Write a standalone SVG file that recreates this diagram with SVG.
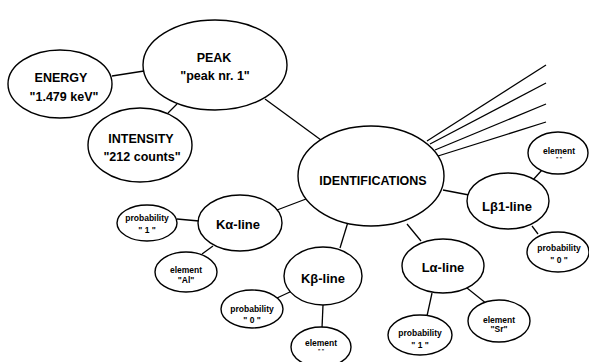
<svg xmlns="http://www.w3.org/2000/svg" width="589" height="362" viewBox="0 0 589 362">
<style>
ellipse{fill:#fff;stroke:#000;stroke-width:1.4}
line{stroke:#000;stroke-width:1.3}
text{font-family:"Liberation Sans",Arial,sans-serif;font-weight:bold;text-anchor:middle;fill:#000}
.b{font-size:12.5px}
.m{font-size:13px}
.s{font-size:8.5px}
.t{font-size:5px}
</style>
<rect width="589" height="362" fill="#fff"/>
<g id="connectors">
<line x1="112" y1="76" x2="144" y2="71"/>
<line x1="177" y1="104" x2="168" y2="113"/>
<line x1="265" y1="99" x2="321" y2="140"/>
<line x1="427" y1="141" x2="546" y2="65"/>
<line x1="430" y1="144" x2="546" y2="83"/>
<line x1="435" y1="150" x2="546" y2="104"/>
<line x1="438" y1="156" x2="546" y2="122"/>
<line x1="542" y1="170" x2="532" y2="181"/>
<line x1="443" y1="190" x2="469" y2="195"/>
<line x1="532" y1="226" x2="538" y2="234"/>
<line x1="407" y1="224" x2="421" y2="241"/>
<line x1="432" y1="293" x2="427" y2="316"/>
<line x1="467" y1="288" x2="487" y2="304"/>
<line x1="277" y1="210" x2="306" y2="199"/>
<line x1="177" y1="219" x2="199" y2="221"/>
<line x1="213" y1="246" x2="202" y2="254"/>
<line x1="348" y1="222" x2="340" y2="248"/>
<line x1="277" y1="298" x2="292" y2="291"/>
<line x1="323" y1="305" x2="322" y2="328"/>
</g>
<g id="peak"><ellipse cx="215" cy="65" rx="72" ry="45"/><text class="b" x="214" y="62">PEAK</text><text class="b" x="215" y="80">"peak nr. 1"</text></g>
<g id="energy"><ellipse cx="60" cy="84" rx="52" ry="34"/><text class="b" x="61" y="82">ENERGY</text><text class="b" x="64" y="101">"1.479 keV"</text></g>
<g id="intensity"><ellipse cx="140" cy="145" rx="52" ry="37"/><text class="b" x="141" y="143">INTENSITY</text><text class="b" x="142" y="161">"212 counts"</text></g>
<g id="identifications"><ellipse cx="371" cy="176" rx="73" ry="50"/><text class="b" x="373" y="185">IDENTIFICATIONS</text></g>
<g id="lb1-element"><ellipse cx="558" cy="153" rx="30" ry="21"/><text class="s" x="559" y="154">element</text><text class="t" x="559" y="161">"  "</text></g>
<g id="lb1-line"><ellipse cx="508" cy="201" rx="41" ry="28"/><text class="m" x="507" y="211">Lβ1-line</text></g>
<g id="lb1-probability"><ellipse cx="558" cy="252" rx="31" ry="20"/><text class="s" x="559" y="251">probability</text><text class="s" x="559" y="263">" 0 "</text></g>
<g id="la-line"><ellipse cx="443" cy="266" rx="41" ry="27"/><text class="m" x="443" y="272">Lα-line</text></g>
<g id="la-probability"><ellipse cx="420" cy="335" rx="32" ry="20"/><text class="s" x="420" y="336">probability</text><text class="s" x="420" y="348">" 1 "</text></g>
<g id="la-element"><ellipse cx="499" cy="321" rx="31" ry="21"/><text class="s" x="499" y="323">element</text><text class="s" x="499" y="332">"Sr"</text></g>
<g id="ka-line"><ellipse cx="240" cy="223" rx="42" ry="28"/><text class="m" x="238" y="229">Kα-line</text></g>
<g id="ka-probability"><ellipse cx="147" cy="223" rx="30" ry="18"/><text class="s" x="147" y="221">probability</text><text class="s" x="147" y="233">" 1 "</text></g>
<g id="ka-element"><ellipse cx="186" cy="272" rx="31" ry="20"/><text class="s" x="186" y="273">element</text><text class="s" x="186" y="283">"Al"</text></g>
<g id="kb-line"><ellipse cx="323" cy="276" rx="39" ry="29"/><text class="m" x="323" y="283">Kβ-line</text></g>
<g id="kb-probability"><ellipse cx="252" cy="309" rx="31" ry="19"/><text class="s" x="252" y="312">probability</text><text class="s" x="252" y="323">" 0 "</text></g>
<g id="kb-element"><ellipse cx="321" cy="347" rx="30" ry="20"/><text class="s" x="321" y="346">element</text><text class="t" x="321" y="353">"  "</text></g>
</svg>
